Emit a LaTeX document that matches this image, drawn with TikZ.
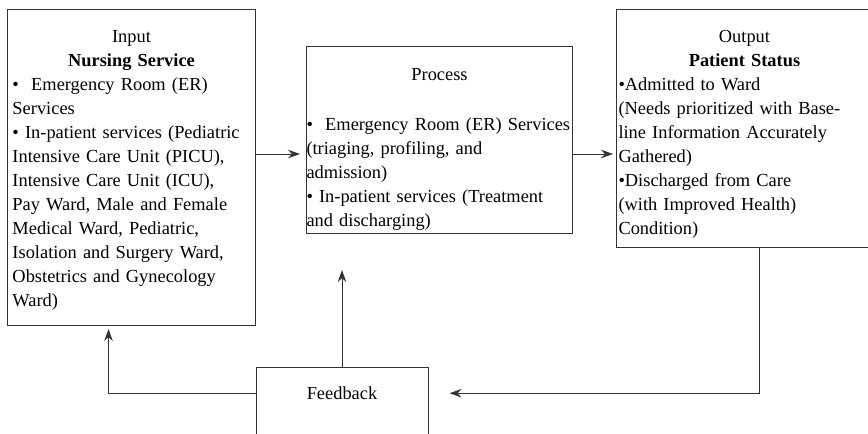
\documentclass[tikz,border=0pt]{standalone}
\usepackage{fontspec}
\setmainfont{Liberation Serif}
\usepackage{tikz}
\usetikzlibrary{arrows.meta, positioning}

\begin{document}
\begin{tikzpicture}[
        x=1pt, y=-1pt,
        box/.style={draw=black!80, line width=1pt, rectangle, anchor=north west, font=\fontsize{18.4}{24}\selectfont},
        arrow/.style={-{Stealth[length=12pt, width=8.5pt]}, line width=1pt, draw=black!80}
    ]
        \useasboundingbox (0,0) rectangle (868,434);
        \coordinate (row) at (0,154);

        \node[box, minimum width=248, minimum height=316, text width=238, inner xsep=5] (input) at (7,9)
            {{\centering \rule{0pt}{18pt}Input\\ \textbf{Nursing Service}\par}
             \raggedright \textbullet\ \ Emergency Room (ER)\\
             Services\\
             \textbullet\ In-patient services (Pediatric\\
             Intensive Care Unit (PICU),\\
             Intensive Care Unit (ICU),\\
             Pay Ward, Male and Female\\
             Medical Ward, Pediatric,\\
             Isolation and Surgery Ward,\\
             Obstetrics and Gynecology\\
             Ward)};
        \node[box, minimum width=266, minimum height=187, text width=266, inner xsep=0] (process) at (306,46)
            {{\centering \rule{0pt}{30pt}Process\par}\vspace{26pt}
             \raggedright \textbullet\ \ Emergency Room (ER) Services\\
             (triaging, profiling, and\\
             admission)\\
             \textbullet\ In-patient services (Treatment\\
             and discharging)};
        \node[box, minimum width=256, minimum height=238, text width=252, inner xsep=2] (output) at (616,9)
            {{\centering \rule{0pt}{24pt}Output\\ \textbf{Patient Status}\par}
             \raggedright \textbullet Admitted to Ward\\
             (Needs prioritized with Base-\\
             line Information Accurately\\
             Gathered)\\
             \textbullet Discharged from Care\\
             (with Improved Health)\\
             Condition)};
        \node[box, anchor=north, minimum width=172, inner ysep=0, text height=32, text depth=50] (feed) at (342,367) {Feedback};

        \draw[arrow] (input.east |- row) -- ([xshift=-6pt]process.west |- row);
        \draw[arrow] (process.east |- row) -- ([xshift=-3pt]output.west |- row);
        \draw[arrow] ([xshift=15pt]output.south) |- ([xshift=21pt, yshift=4pt]feed.mid east);
        \draw[arrow] (feed.north) -- ([yshift=-36pt]feed.north |- process.south);
        \draw[arrow] ([yshift=4pt]feed.mid west) -| ([xshift=-23pt, yshift=-3pt]input.south);
    \end{tikzpicture}
\end{document}
